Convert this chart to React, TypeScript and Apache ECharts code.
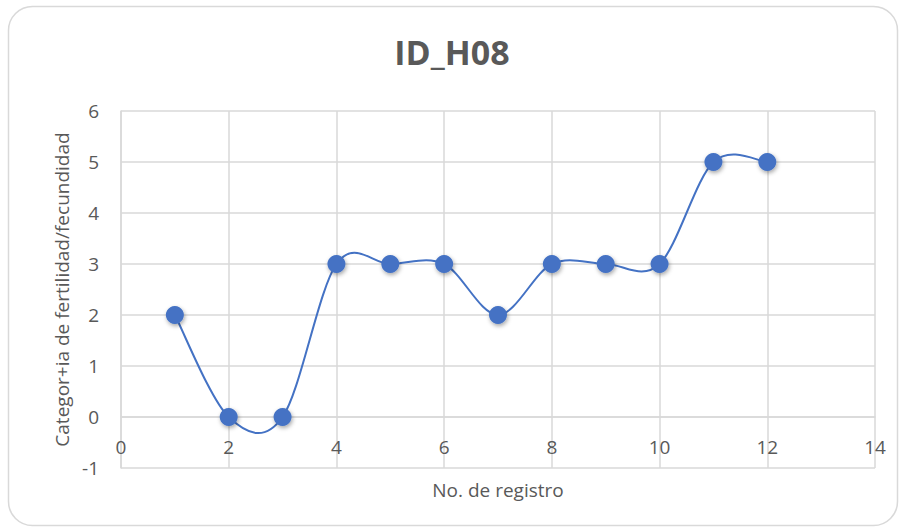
import React, { useEffect, useRef } from "react";
import * as echarts from "echarts";

const titleText = "ID_H08";
const xAxisName = "No. de registro";
const yAxisName = "Categor+ia de fertilidad/fecundidad";
const registro = [1, 2, 3, 4, 5, 6, 7, 8, 9, 10, 11, 12];
const categoria = [2, 0, 0, 3, 3, 3, 2, 3, 3, 3, 5, 5];
const xTicks = { min: 0, max: 14, interval: 2 };
const yTicks = { min: -1, max: 6, interval: 1 };

const FONT = "'Open Sans', 'Liberation Sans', sans-serif";
const TXT = "#595959";
const GRID = "#d9d9d9";
const BLUE = "#4472C4";

const W = 904;
const H = 531;
const GRID_LEFT = 121;
const GRID_TOP = 111;
const GRID_RIGHT = 29;
const GRID_BOTTOM = 63;

export default function App() {
  const ref = useRef<HTMLDivElement>(null);
  useEffect(() => {
    document.body.style.margin = "0";
    const chart = echarts.init(ref.current!, undefined, { renderer: "svg" });
    const points = registro.map((x, i) => [x, categoria[i]]);
    const n = points.length;
    // x-axis crosses the y-axis at 0 (as in Excel)
    const plotH = H - GRID_TOP - GRID_BOTTOM;
    const zeroOffset = -((0 - yTicks.min) / (yTicks.max - yTicks.min)) * plotH;

    chart.setOption({
      animation: false,
      backgroundColor: "#ffffff",
      title: {
        text: titleText,
        left: "center",
        top: 30,
        textStyle: { fontFamily: FONT, fontSize: 34, fontWeight: "bold", color: TXT },
      },
      graphic: [
        {
          type: "rect",
          shape: { x: 8.5, y: 6.5, width: 889, height: 519, r: 24 },
          style: { fill: "none", stroke: GRID, lineWidth: 1.5 },
          silent: true,
        },
      ],
      grid: {
        left: GRID_LEFT,
        top: GRID_TOP,
        right: GRID_RIGHT,
        bottom: GRID_BOTTOM,
        containLabel: false,
        outerBoundsMode: "none",
      },
      xAxis: {
        type: "value",
        min: xTicks.min,
        max: xTicks.max,
        interval: xTicks.interval,
        position: "bottom",
        offset: zeroOffset,
        name: xAxisName,
        nameLocation: "middle",
        nameGap: 63,
        nameTextStyle: { fontFamily: FONT, fontSize: 19, color: TXT },
        axisLine: { show: true, onZero: false, lineStyle: { color: GRID, width: 1.5 } },
        axisTick: { show: false },
        axisLabel: { fontFamily: FONT, fontSize: 19, color: TXT, margin: 20 },
        splitLine: { show: true, lineStyle: { color: GRID, width: 1.5 } },
      },
      yAxis: {
        type: "value",
        min: yTicks.min,
        max: yTicks.max,
        interval: yTicks.interval,
        name: yAxisName,
        nameLocation: "middle",
        nameGap: 50,
        nameTextStyle: { fontFamily: FONT, fontSize: 19, color: TXT },
        axisLine: { show: true, onZero: false, lineStyle: { color: GRID, width: 1.5 } },
        axisTick: { show: false },
        axisLabel: { fontFamily: FONT, fontSize: 19, color: TXT, margin: 22 },
        splitLine: { show: true, lineStyle: { color: GRID, width: 1.5 } },
      },
      series: [
        {
          // Excel-style smoothed line (Catmull-Rom Bézier through the data points)
          type: "custom",
          data: points,
          encode: { x: 0, y: 1 },
          clip: false,
          z: 2,
          renderItem: (params: any, api: any) => {
            const i = params.dataIndex;
            if (i >= n - 1) return null;
            const c = (k: number) => {
              const kk = Math.max(0, Math.min(n - 1, k));
              return api.coord(points[kk]);
            };
            const p0 = c(i - 1);
            const p1 = c(i);
            const p2 = c(i + 1);
            const p3 = c(i + 2);
            const t = 1 / 6;
            return {
              type: "bezierCurve",
              shape: {
                x1: p1[0],
                y1: p1[1],
                x2: p2[0],
                y2: p2[1],
                cpx1: p1[0] + (p2[0] - p0[0]) * t,
                cpy1: p1[1] + (p2[1] - p0[1]) * t,
                cpx2: p2[0] - (p3[0] - p1[0]) * t,
                cpy2: p2[1] - (p3[1] - p1[1]) * t,
              },
              style: { stroke: BLUE, lineWidth: 2, fill: null },
              silent: true,
            };
          },
        },
        {
          type: "scatter",
          data: points,
          z: 3,
          symbol: "circle",
          symbolSize: 18,
          itemStyle: {
            color: BLUE,
            opacity: 1,
            shadowBlur: 4,
            shadowColor: "rgba(0,0,0,0.35)",
            shadowOffsetX: 1,
            shadowOffsetY: 2,
          },
        },
      ],
    });
    return () => chart.dispose();
  }, []);
  return <div ref={ref} style={{ width: W, height: H }} />;
}
